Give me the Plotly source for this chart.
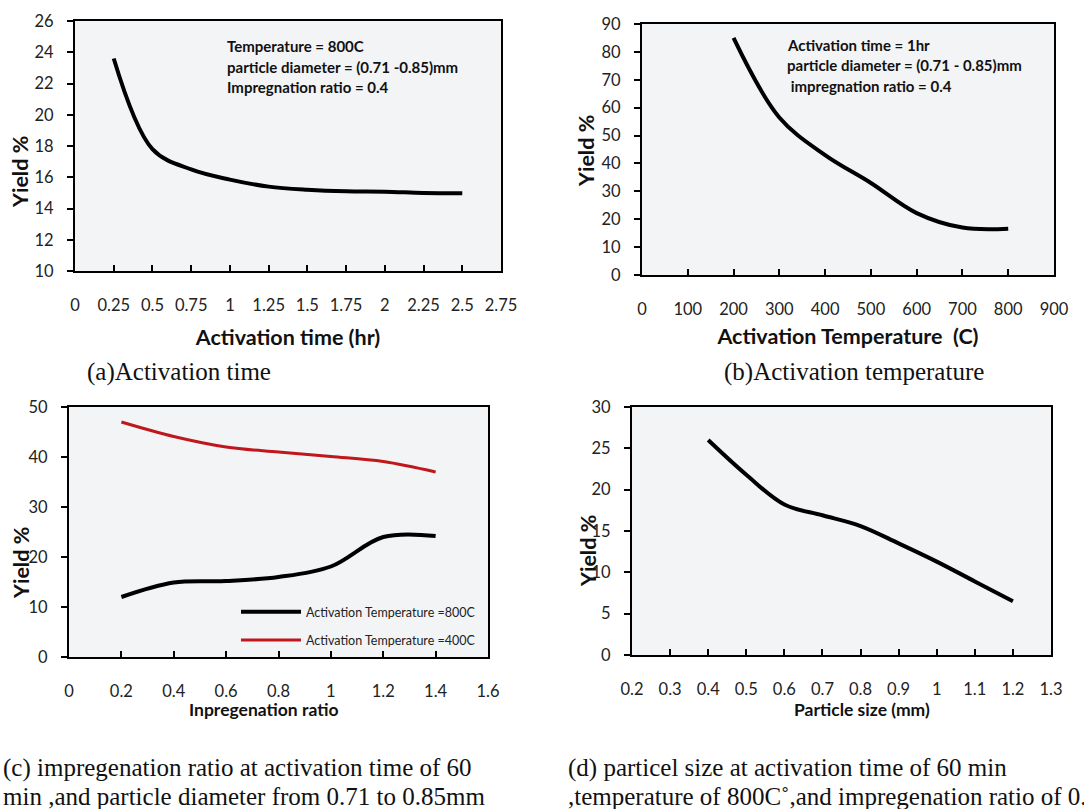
import plotly.graph_objects as go

W, H = 1084, 809

# ---- data ----
time_hr = [0.25, 0.5, 0.75, 1.0, 1.25, 1.5, 1.75, 2.0, 2.25, 2.5]
yield_time = [23.6, 17.8, 16.5, 15.85, 15.4, 15.2, 15.1, 15.08, 15.0, 14.98]

temp_c = [200, 300, 400, 500, 600, 700, 800]
yield_temp = [85.0, 56.5, 43.0, 33.0, 22.2, 17.0, 16.6]

impreg_ratio = [0.2, 0.4, 0.6, 0.8, 1.0, 1.2, 1.4]
yield_impreg_800 = [12.0, 14.9, 15.2, 16.0, 18.1, 24.0, 24.2]
yield_impreg_400 = [47.0, 44.1, 42.0, 41.0, 40.1, 39.1, 37.0]

particle_mm = [0.4, 0.5, 0.6, 0.7, 0.8, 0.9, 1.0, 1.1, 1.2]
yield_particle = [26.0, 21.8, 18.2, 16.9, 15.6, 13.5, 11.3, 8.9, 6.5]

SANS = "Lato"
SERIF = "Liberation Serif"
BG = "#F3F4F6"

def px(x):
    return x / W

def py(y):
    return 1 - y / H

fig = go.Figure()

fig.add_trace(go.Scatter(x=time_hr, y=yield_time, mode="lines", line=dict(color="black", width=4, shape="spline"),
                         xaxis="x", yaxis="y", showlegend=False))
fig.add_trace(go.Scatter(x=temp_c, y=yield_temp, mode="lines", line=dict(color="black", width=4, shape="spline"),
                         xaxis="x2", yaxis="y2", showlegend=False))
fig.add_trace(go.Scatter(x=impreg_ratio, y=yield_impreg_800, mode="lines", name="Activation Temperature =800C",
                         line=dict(color="black", width=4, shape="spline"), xaxis="x3", yaxis="y3",
                         legendgroup="a"))
fig.add_trace(go.Scatter(x=impreg_ratio, y=yield_impreg_400, mode="lines", name="Activation Temperature =400C",
                         line=dict(color="#C0171D", width=3, shape="spline"), xaxis="x3", yaxis="y3",
                         legendgroup="b"))
fig.add_trace(go.Scatter(x=particle_mm, y=yield_particle, mode="lines", line=dict(color="black", width=4, shape="spline"),
                         xaxis="x4", yaxis="y4", showlegend=False))

tickfont = dict(family=SANS, size=16.5, color="#222")

def xax(dom, rng, tickvals, ticktext, title, tsize, standoff_lbl, standoff_title, anchor):
    return dict(domain=dom, range=rng, tickvals=tickvals, ticktext=ticktext,
                ticks="inside", ticklen=6, tickcolor="black", tickwidth=2,
                showline=True, linecolor="black", linewidth=2, mirror=True,
                showgrid=False, zeroline=False, tickfont=tickfont, automargin=False,
                ticklabelstandoff=standoff_lbl,
                title=dict(text=title, font=dict(family=SANS, size=tsize, color="#111", weight="bold"),
                           standoff=standoff_title),
                anchor=anchor)

def yax(dom, rng, dtick, anchor):
    return dict(domain=dom, range=rng, dtick=dtick, tick0=rng[0],
                ticks="outside", ticklen=6, tickcolor="black", tickwidth=2,
                showline=True, linecolor="black", linewidth=2, mirror=True,
                showgrid=False, zeroline=False, tickfont=tickfont, automargin=False,
                ticklabelstandoff=10, anchor=anchor)

xa_vals = [0, 0.25, 0.5, 0.75, 1, 1.25, 1.5, 1.75, 2, 2.25, 2.5, 2.75]
xa_txt = ["0", "0.25", "0.5", "0.75", "1", "1.25", "1.5", "1.75", "2", "2.25", "2.5", "2.75"]
xb_vals = list(range(0, 901, 100))
xb_txt = [str(v) for v in xb_vals]
xc_vals = [0, 0.2, 0.4, 0.6, 0.8, 1.0, 1.2, 1.4, 1.6]
xc_txt = ["0", "0.2", "0.4", "0.6", "0.8", "1", "1.2", "1.4", "1.6"]
xd_vals = [0.2, 0.3, 0.4, 0.5, 0.6, 0.7, 0.8, 0.9, 1.0, 1.1, 1.2, 1.3]
xd_txt = ["0.2", "0.3", "0.4", "0.5", "0.6", "0.7", "0.8", "0.9", "1", "1.1", "1.2", "1.3"]

fig.update_layout(
    width=W, height=H, margin=dict(l=0, r=0, t=0, b=0, autoexpand=False),
    paper_bgcolor="white", plot_bgcolor=BG,
    xaxis=xax([px(75), px(501)], [0, 2.75], xa_vals, xa_txt, "Activation time (hr)", 21.5, 18, 16, "y"),
    yaxis=yax([py(271), py(21)], [10, 26], 2, "x"),
    xaxis2=xax([px(642), px(1054)], [0, 900], xb_vals, xb_txt, "Activation Temperature  (C)", 21.5, 18, 11, "y2"),
    yaxis2=yax([py(275), py(24)], [0, 90], 10, "x2"),
    xaxis3=xax([px(69), px(488)], [0, 1.6], xc_vals, xc_txt, "", 17.5, 18, 0, "y3"),
    yaxis3=yax([py(657), py(407)], [0, 50], 10, "x3"),
    xaxis4=xax([px(632), px(1051)], [0.2, 1.3], xd_vals, xd_txt, "", 17.5, 18, 0, "y4"),
    yaxis4=yax([py(655), py(407)], [0, 30], 5, "x4"),
    legend=dict(x=px(236), y=py(597), xanchor="left", yanchor="top", bgcolor="rgba(0,0,0,0)",
                font=dict(family=SANS, size=12.5, color="#222"), tracegroupgap=9, itemwidth=60),
)

ann = []
def note(x, y, text, size=15, family=SANS, bold=True, xanchor="left", angle=0):
    ann.append(dict(x=px(x), y=py(y), xref="paper", yref="paper", text=text, showarrow=False,
                    xanchor=xanchor, yanchor="middle", textangle=angle,
                    font=dict(family=family, size=size, color="#111", weight="bold" if bold else "normal")))

# y-axis titles
note(20, 172, "Yield %", size=21.5, xanchor="center", angle=-90)
note(586, 151, "Yield %", size=21.5, xanchor="center", angle=-90)
note(21, 563, "Yield %", size=21.5, xanchor="center", angle=-90)
note(588, 551, "Yield %", size=21.5, xanchor="center", angle=-90)

# lower-row x-axis titles
note(263, 709, "Inpregenation ratio", size=17.5, xanchor="center")
note(862, 709, "Particle size (mm)", size=17.5, xanchor="center")

note(225, 46, "Temperature = 800C")
note(225, 67, "particle diameter = (0.71 -0.85)mm")
note(225, 87, "Impregnation ratio = 0.4")
note(785, 45, "Activation time = 1hr")
note(785, 65, "particle diameter = (0.71 - 0.85)mm")
note(785, 86, " impregnation ratio = 0.4")

note(179, 372, "(a)Activation time", size=25, family=SERIF, bold=False, xanchor="center")
note(854, 372, "(b)Activation temperature", size=25, family=SERIF, bold=False, xanchor="center")
note(1, 768, "(c) impregenation ratio at activation time of 60", size=25, family=SERIF, bold=False)
note(1, 796, "min ,and particle diameter from 0.71 to 0.85mm", size=25, family=SERIF, bold=False)
note(566, 768, "(d) particel size at activation time of 60 min", size=25, family=SERIF, bold=False)
note(566, 796, ",temperature of 800C˚,and impregenation ratio of 0.4", size=25, family=SERIF, bold=False)

fig.update_layout(annotations=ann)
fig.write_html("out.html", config={"displayModeBar": False},
               post_script="document.body.style.margin='0';document.body.style.overflow='hidden';")
